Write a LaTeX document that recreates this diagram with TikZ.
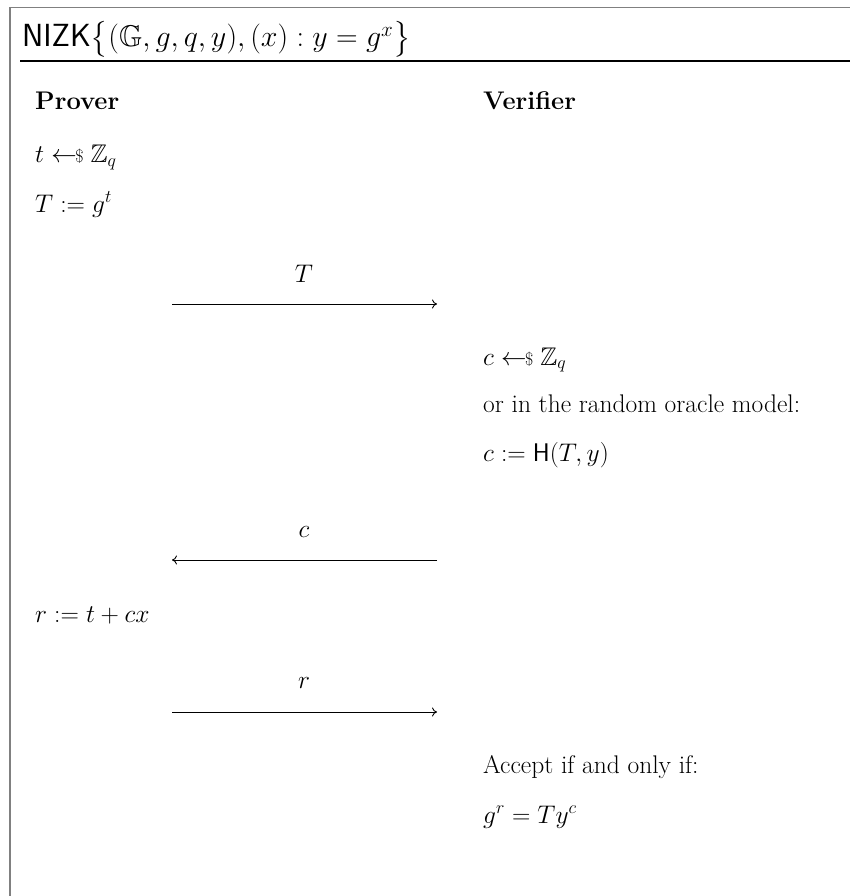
\RequirePackage{fix-cm}
\documentclass[tikz,border=0pt]{standalone}
\usepackage{amsmath}
\usepackage{amssymb}
\usetikzlibrary{arrows.meta}
\newcommand{\sampl}{\mathrel{\leftarrow\!\!{\scriptstyle\$}}}
\begin{document}
\begin{tikzpicture}[x=1pt,y=-1pt,
  txt/.style={anchor=base west,inner sep=0pt,font=\fontsize{25.5}{30}\selectfont},
  lbl/.style={anchor=base,inner sep=0pt,font=\fontsize{25.5}{30}\selectfont},
  ttl/.style={anchor=base west,inner sep=0pt,font=\fontsize{30}{26}\selectfont},
  msg/.style={line width=0.9pt,-{To[length=5pt,width=9pt]}},
  frame/.style={draw=black!50,line width=1.6pt},
  rule/.style={draw=black,line width=1.2pt}]
\useasboundingbox (0,0) rectangle (850,896);
% frame
\coordinate (ftr) at (850,7.5);
\coordinate (ftl) at (10,7.5);
\coordinate (fbl) at (10,896);
\draw[frame] (ftr) -- (ftl) -- (fbl);
\coordinate (rl) at (20,61);
\coordinate (rr) at (850,61);
\draw[rule] (rl) -- (rr);
% title
\node[ttl] (title) at (22,47) {{\fontsize{32}{26}\selectfont\textsf{NIZK}}$\bigl\{(\mathbb{G},g,q,y),(x):y=g^{x}\bigr\}$};
% headers
\node[txt] (prover) at (35,110) {\textbf{Prover}};
\node[txt] (verifier) at (483,110) {\textbf{Verifier}};
% prover step 1
\node[txt] (p1) at (35,163) {$t \sampl \mathbb{Z}_q$};
\node[txt] (p2) at (35,212) {$T := g^{t}$};
% message 1
\node[lbl] (m1) at (304,282) {$T$};
\coordinate (a1s) at (172,304);
\coordinate (a1e) at (437,304);
\draw[msg] (a1s) -- (a1e);
% verifier
\node[txt] (v1) at (483,365) {$c \sampl \mathbb{Z}_q$};
\node[txt] (v2) at (483,412) {or in the random oracle model:};
\node[txt] (v3) at (483,461) {$c := \mathsf{H}(T,y)$};
% message 2
\node[lbl] (m2) at (304,537) {$c$};
\coordinate (a2s) at (437,560);
\coordinate (a2e) at (172,560);
\draw[msg] (a2s) -- (a2e);
% prover response
\node[txt] (p3) at (35,622) {$r := t + cx$};
% message 3
\node[lbl] (m3) at (304,688) {$r$};
\coordinate (a3s) at (172,712);
\coordinate (a3e) at (437,712);
\draw[msg] (a3s) -- (a3e);
% verification
\node[txt] (v4) at (483,773) {Accept if and only if:};
\node[txt] (v5) at (483,823) {$g^{r} = Ty^{c}$};
\end{tikzpicture}
\end{document}
